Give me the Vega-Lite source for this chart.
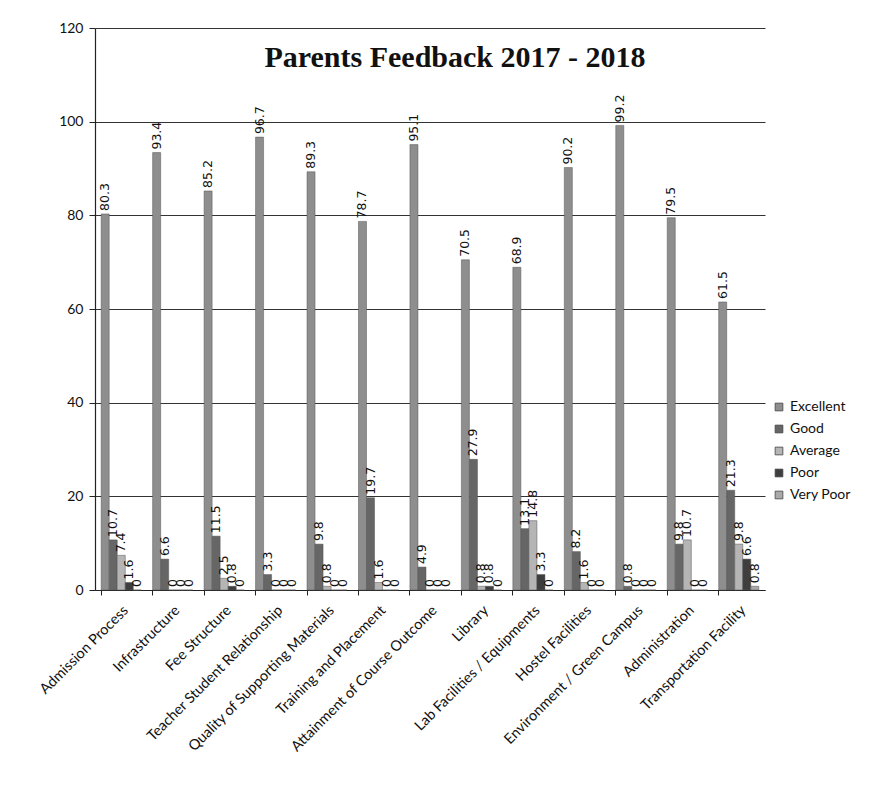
{
  "$schema": "https://vega.github.io/schema/vega-lite/v6.json",
  "width": 670,
  "height": 562,
  "padding": {"left": 36, "top": 21, "right": 110, "bottom": 5},
  "background": "white",
  "title": {
    "text": "Parents Feedback 2017 - 2018",
    "font": "Liberation Serif",
    "fontSize": 30,
    "fontWeight": "bold",
    "color": "#111111",
    "anchor": "middle",
    "offset": -52,
    "dx": 25
  },
  "data": {
    "values": [
      {"category": "Admission Process", "rating": "Excellent", "value": 80.3},
      {"category": "Admission Process", "rating": "Good", "value": 10.7},
      {"category": "Admission Process", "rating": "Average", "value": 7.4},
      {"category": "Admission Process", "rating": "Poor", "value": 1.6},
      {"category": "Admission Process", "rating": "Very Poor", "value": 0},
      {"category": "Infrastructure", "rating": "Excellent", "value": 93.4},
      {"category": "Infrastructure", "rating": "Good", "value": 6.6},
      {"category": "Infrastructure", "rating": "Average", "value": 0},
      {"category": "Infrastructure", "rating": "Poor", "value": 0},
      {"category": "Infrastructure", "rating": "Very Poor", "value": 0},
      {"category": "Fee Structure", "rating": "Excellent", "value": 85.2},
      {"category": "Fee Structure", "rating": "Good", "value": 11.5},
      {"category": "Fee Structure", "rating": "Average", "value": 2.5},
      {"category": "Fee Structure", "rating": "Poor", "value": 0.8},
      {"category": "Fee Structure", "rating": "Very Poor", "value": 0},
      {"category": "Teacher Student Relationship", "rating": "Excellent", "value": 96.7},
      {"category": "Teacher Student Relationship", "rating": "Good", "value": 3.3},
      {"category": "Teacher Student Relationship", "rating": "Average", "value": 0},
      {"category": "Teacher Student Relationship", "rating": "Poor", "value": 0},
      {"category": "Teacher Student Relationship", "rating": "Very Poor", "value": 0},
      {"category": "Quality of Supporting Materials", "rating": "Excellent", "value": 89.3},
      {"category": "Quality of Supporting Materials", "rating": "Good", "value": 9.8},
      {"category": "Quality of Supporting Materials", "rating": "Average", "value": 0.8},
      {"category": "Quality of Supporting Materials", "rating": "Poor", "value": 0},
      {"category": "Quality of Supporting Materials", "rating": "Very Poor", "value": 0},
      {"category": "Training and Placement", "rating": "Excellent", "value": 78.7},
      {"category": "Training and Placement", "rating": "Good", "value": 19.7},
      {"category": "Training and Placement", "rating": "Average", "value": 1.6},
      {"category": "Training and Placement", "rating": "Poor", "value": 0},
      {"category": "Training and Placement", "rating": "Very Poor", "value": 0},
      {"category": "Attainment of Course Outcome", "rating": "Excellent", "value": 95.1},
      {"category": "Attainment of Course Outcome", "rating": "Good", "value": 4.9},
      {"category": "Attainment of Course Outcome", "rating": "Average", "value": 0},
      {"category": "Attainment of Course Outcome", "rating": "Poor", "value": 0},
      {"category": "Attainment of Course Outcome", "rating": "Very Poor", "value": 0},
      {"category": "Library", "rating": "Excellent", "value": 70.5},
      {"category": "Library", "rating": "Good", "value": 27.9},
      {"category": "Library", "rating": "Average", "value": 0.8},
      {"category": "Library", "rating": "Poor", "value": 0.8},
      {"category": "Library", "rating": "Very Poor", "value": 0},
      {"category": "Lab Facilities / Equipments", "rating": "Excellent", "value": 68.9},
      {"category": "Lab Facilities / Equipments", "rating": "Good", "value": 13.1},
      {"category": "Lab Facilities / Equipments", "rating": "Average", "value": 14.8},
      {"category": "Lab Facilities / Equipments", "rating": "Poor", "value": 3.3},
      {"category": "Lab Facilities / Equipments", "rating": "Very Poor", "value": 0},
      {"category": "Hostel Facilities", "rating": "Excellent", "value": 90.2},
      {"category": "Hostel Facilities", "rating": "Good", "value": 8.2},
      {"category": "Hostel Facilities", "rating": "Average", "value": 1.6},
      {"category": "Hostel Facilities", "rating": "Poor", "value": 0},
      {"category": "Hostel Facilities", "rating": "Very Poor", "value": 0},
      {"category": "Environment / Green Campus", "rating": "Excellent", "value": 99.2},
      {"category": "Environment / Green Campus", "rating": "Good", "value": 0.8},
      {"category": "Environment / Green Campus", "rating": "Average", "value": 0},
      {"category": "Environment / Green Campus", "rating": "Poor", "value": 0},
      {"category": "Environment / Green Campus", "rating": "Very Poor", "value": 0},
      {"category": "Administration", "rating": "Excellent", "value": 79.5},
      {"category": "Administration", "rating": "Good", "value": 9.8},
      {"category": "Administration", "rating": "Average", "value": 10.7},
      {"category": "Administration", "rating": "Poor", "value": 0},
      {"category": "Administration", "rating": "Very Poor", "value": 0},
      {"category": "Transportation Facility", "rating": "Excellent", "value": 61.5},
      {"category": "Transportation Facility", "rating": "Good", "value": 21.3},
      {"category": "Transportation Facility", "rating": "Average", "value": 9.8},
      {"category": "Transportation Facility", "rating": "Poor", "value": 6.6},
      {"category": "Transportation Facility", "rating": "Very Poor", "value": 0.8}
    ]
  },
  "encoding": {
    "x": {
      "field": "category",
      "type": "nominal",
      "sort": null,
      "scale": {"paddingInner": 0.22, "paddingOuter": 0.12},
      "axis": {
        "title": null,
        "labelAngle": -45,
        "labelAlign": "right",
        "labelBaseline": "top",
        "labelFont": "Lato",
        "labelFontSize": 14.5,
        "labelColor": "#111111",
        "labelPadding": 8,
        "bandPosition": 0,
        "tickColor": "#222222",
        "tickSize": 5,
        "domainColor": "#222222",
        "domainWidth": 1.2,
        "labelLimit": 300
      }
    },
    "xOffset": {
      "field": "rating",
      "type": "nominal",
      "sort": ["Excellent", "Good", "Average", "Poor", "Very Poor"]
    },
    "y": {
      "field": "value",
      "type": "quantitative",
      "scale": {"domain": [0, 120]},
      "axis": {
        "title": null,
        "values": [0, 20, 40, 60, 80, 100, 120],
        "labelFont": "Lato",
        "labelFontSize": 14,
        "labelColor": "#111111",
        "labelPadding": 6,
        "tickColor": "#222222",
        "tickSize": 6,
        "domainColor": "#222222",
        "domainWidth": 1.2,
        "grid": true,
        "gridColor": "#333333",
        "gridWidth": 1
      }
    }
  },
  "layer": [
    {
      "mark": {"type": "bar", "stroke": "#555555", "strokeWidth": 0.5},
      "encoding": {
        "color": {
          "field": "rating",
          "type": "nominal",
          "sort": ["Excellent", "Good", "Average", "Poor", "Very Poor"],
          "scale": {
            "domain": ["Excellent", "Good", "Average", "Poor", "Very Poor"],
            "range": ["#8e8e8e", "#666666", "#b5b5b5", "#3e3e3e", "#a9a9a9"]
          },
          "legend": {
            "title": null,
            "orient": "none",
            "legendX": 677,
            "legendY": 372,
            "symbolType": "square",
            "symbolSize": 60,
            "symbolStrokeColor": "#444444",
            "symbolStrokeWidth": 0.8,
            "labelFont": "Lato",
            "labelFontSize": 14,
            "labelColor": "#111111",
            "rowPadding": 8
          }
        }
      }
    },
    {
      "mark": {
        "type": "text",
        "angle": -90,
        "align": "left",
        "baseline": "middle",
        "dx": 3,
        "font": "DejaVu Sans",
        "fontSize": 12.5,
        "color": "#111111"
      },
      "encoding": {
        "text": {"field": "value", "type": "quantitative"}
      }
    }
  ],
  "config": {
    "view": {"stroke": null}
  }
}
